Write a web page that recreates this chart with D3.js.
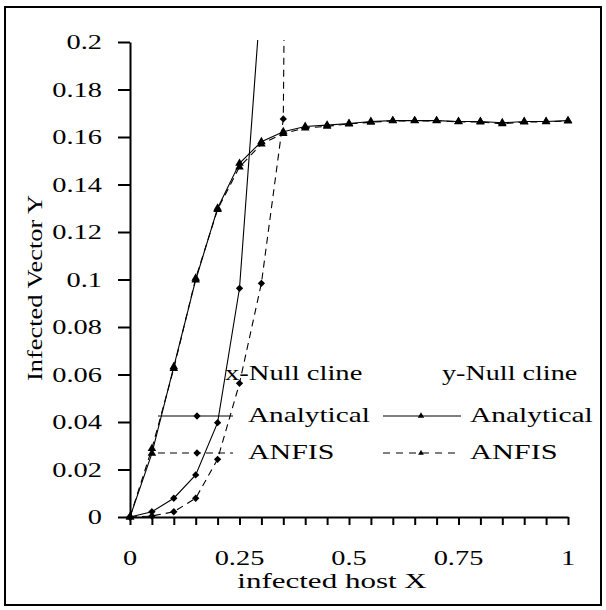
<!DOCTYPE html>
<html>
<head>
<meta charset="utf-8">
<script src="https://cdn.jsdelivr.net/npm/d3@7"></script>
<style>
  html, body { margin: 0; padding: 0; background: #fff; }
  svg { display: block; }
  text { font-family: "Liberation Serif", "Times New Roman", serif; fill: #000; }
</style>
</head>
<body>
<svg id="chart" width="606" height="610"></svg>
<script>
// Tick labels
const xTickLabels = [0, 0.25, 0.5, 0.75, 1];
const yTickLabels = [0, 0.02, 0.04, 0.06, 0.08, 0.1, 0.12, 0.14, 0.16, 0.18, 0.2];
const xMinorTicks = [0, 0.05, 0.1, 0.15, 0.2, 0.25, 0.3, 0.35, 0.4, 0.45, 0.5,
                     0.55, 0.6, 0.65, 0.7, 0.75, 0.8, 0.85, 0.9, 0.95, 1];

// x-Null cline, analytical
const xNullAnalyticalX = [0, 0.05, 0.1, 0.15, 0.2, 0.25, 0.3];
const xNullAnalyticalY = [0, 0.0022, 0.0079, 0.0177, 0.0397, 0.0963, 0.222];

// x-Null cline, ANFIS
const xNullAnfisX = [0, 0.05, 0.1, 0.15, 0.2, 0.25, 0.3, 0.35, 0.4];
const xNullAnfisY = [0, 0.0004, 0.0022, 0.0079, 0.0243, 0.0563, 0.0984, 0.1676, 1.25];

// y-Null cline, analytical and ANFIS
const yNullX = [0, 0.05, 0.1, 0.15, 0.2, 0.25, 0.3, 0.35, 0.4, 0.45, 0.5,
                0.55, 0.6, 0.65, 0.7, 0.75, 0.8, 0.85, 0.9, 0.95, 1];
const yNullAnalyticalY = [0, 0.0268, 0.0633, 0.0998, 0.1300, 0.1489, 0.1580, 0.1622, 0.1644, 0.1650, 0.1657,
                          0.1665, 0.1669, 0.1669, 0.1669, 0.1665, 0.1665, 0.1660, 0.1665, 0.1665, 0.1669];
const yNullAnfisY = [0, 0.0288, 0.0625, 0.1005, 0.1295, 0.1474, 0.1570, 0.1615, 0.1638, 0.1645, 0.1655,
                     0.1662, 0.1668, 0.1668, 0.1668, 0.1664, 0.1663, 0.1656, 0.1663, 0.1664, 0.1667];

const svg = d3.select("#chart");
const plot = { left: 130, right: 568, top: 42, bottom: 517 };

const x = d3.scaleLinear().domain([0, 1]).range([plot.left, plot.right]);
const y = d3.scaleLinear().domain([0, 0.2]).range([plot.bottom, plot.top]);

// Outer frame
svg.append("rect")
  .attr("x", 5).attr("y", 7).attr("width", 596).attr("height", 598)
  .attr("fill", "none").attr("stroke", "#000").attr("stroke-width", 2);

// Text drawn with a horizontal stretch along its reading direction
function wideText(parent, str, tx, ty, size, sx, anchor, rotate) {
  const g = parent.append("g")
    .attr("transform", `translate(${tx},${ty})` + (rotate ? ` rotate(${rotate})` : "") + ` scale(${sx},1)`);
  g.append("text")
    .attr("font-size", size)
    .attr("text-anchor", anchor || "start")
    .text(str);
  return g;
}

// Axes
const yAxis = d3.axisLeft(y).tickValues(yTickLabels).tickSize(12).tickSizeOuter(0).tickFormat("");
const xAxis = d3.axisBottom(x).tickValues(xMinorTicks).tickSize(8).tickSizeOuter(0).tickFormat("");

const gy = svg.append("g").attr("transform", `translate(${plot.left},0)`).call(yAxis);
const gx = svg.append("g").attr("transform", `translate(0,${plot.bottom})`).call(xAxis);
[gy, gx].forEach(g => {
  g.select(".domain").attr("stroke", "#000").attr("stroke-width", 2);
  g.selectAll(".tick line").attr("stroke", "#000").attr("stroke-width", 2);
});

// Tick labels
const fmt = d => String(+d.toFixed(2));
yTickLabels.forEach(v => wideText(svg, fmt(v), 102, y(v) + 7, 20, 1.42, "end"));
xTickLabels.forEach(v => wideText(svg, fmt(v), x(v), 565, 20, 1.42, "middle"));

// Axis titles
wideText(svg, "infected host X", 332, 588, 22, 1.41, "middle");
wideText(svg, "Infected Vector Y", 42, 288, 22, 1.2, "middle", -90);

// Plot clipping
svg.append("clipPath").attr("id", "plotClip")
  .append("rect").attr("x", plot.left - 12).attr("y", plot.top - 2)
  .attr("width", plot.right - plot.left + 24).attr("height", plot.bottom - plot.top + 14);

const layer = svg.append("g").attr("clip-path", "url(#plotClip)");

const line = d3.line().x(d => x(d[0])).y(d => y(d[1]));
const zipPts = (xs, ys) => xs.map((v, i) => [v, ys[i]]);

const diamond = d3.symbol().type(d3.symbolDiamond2).size(34);
const triangle = d3.symbol().type(d3.symbolTriangle).size(32);

const series = [
  { pts: zipPts(yNullX, yNullAnfisY), dash: "7,5", marker: triangle },
  { pts: zipPts(yNullX, yNullAnalyticalY), dash: null, marker: triangle },
  { pts: zipPts(xNullAnfisX, xNullAnfisY), dash: "7,5", marker: diamond },
  { pts: zipPts(xNullAnalyticalX, xNullAnalyticalY), dash: null, marker: diamond }
];

series.forEach(s => {
  layer.append("path")
    .attr("d", line(s.pts))
    .attr("fill", "none").attr("stroke", "#000").attr("stroke-width", 1.1)
    .attr("stroke-dasharray", s.dash);
  layer.selectAll(null).data(s.pts).enter().append("path")
    .attr("d", s.marker)
    .attr("transform", d => `translate(${x(d[0])},${y(d[1])})`)
    .attr("fill", "#000");
});

// Legend
const legend = svg.append("g");
wideText(legend, "x-Null cline", 225, 380, 22, 1.3, "start");
wideText(legend, "y-Null cline", 442, 380, 22, 1.28, "start");

const legendRows = [
  { x1: 158, x2: 233, mx: 197, ly: 416, dash: null, marker: diamond, label: "Analytical", tx: 248, sx: 1.33 },
  { x1: 158, x2: 233, mx: 197, ly: 453, dash: "7,5", marker: diamond, label: "ANFIS", tx: 248, sx: 1.36 },
  { x1: 383, x2: 461, mx: 421, ly: 416, dash: null, marker: d3.symbol().type(d3.symbolTriangle).size(18), label: "Analytical", tx: 470, sx: 1.34 },
  { x1: 383, x2: 461, mx: 421, ly: 453, dash: "7,6", marker: d3.symbol().type(d3.symbolTriangle).size(14), label: "ANFIS", tx: 470, sx: 1.38 }
];
legendRows.forEach(r => {
  legend.append("line")
    .attr("x1", r.x1).attr("x2", r.x2).attr("y1", r.ly).attr("y2", r.ly)
    .attr("stroke", "#000").attr("stroke-width", 1.2)
    .attr("stroke-dasharray", r.dash);
  legend.append("path").attr("d", r.marker)
    .attr("transform", `translate(${r.mx},${r.ly})`).attr("fill", "#000");
  wideText(legend, r.label, r.tx, r.ly + 6, 22, r.sx, "start");
});
</script>
</body>
</html>
